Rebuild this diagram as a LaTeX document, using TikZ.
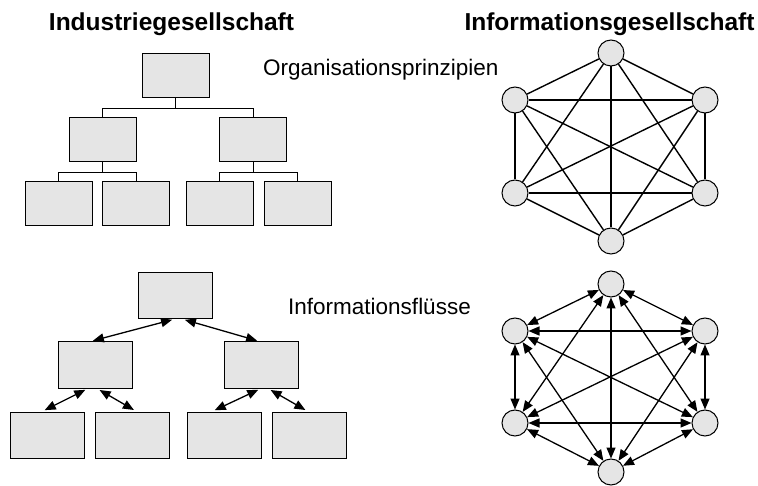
\documentclass[tikz,border=0pt]{standalone}
\usepackage{fontspec}
\setmainfont{Liberation Sans}
\usetikzlibrary{arrows.meta}

\begin{document}
\begin{tikzpicture}[x=1pt, y=-1pt,
	box/.style = {draw, line width=1pt, fill=black!10, inner sep=0pt},
	kbox/.style = {box, minimum width=67pt, minimum height=44pt},
	gbox/.style = {box, minimum width=74pt, minimum height=46pt},
	knot/.style = {draw, circle, line width=1pt, fill=black!10, minimum size=26pt, inner sep=0pt},
	hexline/.style = {line width=1.4pt},
	flow/.style = {line width=1.3pt, {Triangle[length=11pt,width=9pt]}-{Triangle[length=11pt,width=9pt]}},
	txt/.style = {inner sep=0pt, anchor=base west, font=\fontsize{22.5}{26}\selectfont},
	head/.style = {inner sep=0pt, anchor=base, font=\fontsize{24.5}{28}\selectfont\bfseries}]
	\useasboundingbox (0,0) rectangle (758,486);

	% titles
	\node[head] (hind) at (171.5,31) {Industriegesellschaft};
	\node[head] (hinf) at (609.5,31) {Informationsgesellschaft};
	\node[txt] (lorg) at (263,76) {Organisationsprinzipien};
	\node[txt] (lflu) at (288,315) {Informationsflüsse};

	% hierarchy, top
	\node[kbox] (o0) at (175.5,76) {};
	\node[kbox] (o1) at (102.5,140) {};
	\node[kbox] (o2) at (253,140) {};
	\node[kbox] (o11) at (58.5,204) {};
	\node[kbox] (o12) at (136,204) {};
	\node[kbox] (o21) at (219.5,204) {};
	\node[kbox] (o22) at (297.5,204) {};
	\draw[line width=1pt] (o0.south) -- ++(0,10) -| (o1.north);
	\draw[line width=1pt] (o0.south) -- ++(0,10) -| (o2.north);
	\draw[line width=1pt] (o1.south) -- ++(0,10) -| (o11.north);
	\draw[line width=1pt] (o1.south) -- ++(0,10) -| (o12.north);
	\draw[line width=1pt] (o2.south) -- ++(0,10) -| (o21.north);
	\draw[line width=1pt] (o2.south) -- ++(0,10) -| (o22.north);

	% hierarchy, bottom
	\node[gbox] (f0) at (175,295.5) {};
	\node[gbox] (f1) at (95,365) {};
	\node[gbox] (f2) at (261,365) {};
	\node[gbox] (f11) at (47,435) {};
	\node[gbox] (f12) at (132.5,435) {};
	\node[gbox] (f21) at (224,435) {};
	\node[gbox] (f22) at (309,435) {};
	\draw[flow, shorten <=3pt, shorten >=3pt] (f0.south) -- ([xshift=-5pt]f1.north);
	\draw[flow, shorten <=3pt, shorten >=3pt] ([xshift=7pt]f0.south) -- ([xshift=-1pt]f2.north);
	\draw[flow, shorten <=3pt, shorten >=3pt] ([xshift=-7pt]f1.south) -- ([xshift=-5pt]f11.north);
	\draw[flow, shorten <=3pt, shorten >=3pt] ([xshift=2pt]f1.south) -- ([xshift=4pt]f12.north);
	\draw[flow, shorten <=3pt, shorten >=3pt] (f2.south) -- ([xshift=-12pt]f21.north);
	\draw[flow, shorten <=3pt, shorten >=3pt] ([xshift=7pt]f2.south) -- ([xshift=-1pt]f22.north);

	% network, top
	\node[knot] (p1) at (611,53) {};
	\node[knot] (p2) at (705,100) {};
	\node[knot] (p3) at (705,193) {};
	\node[knot] (p4) at (611,241) {};
	\node[knot] (p5) at (515,193) {};
	\node[knot] (p6) at (515,100) {};
	\draw[hexline] (p1) edge (p2) edge (p3) edge (p4) edge (p5) edge (p6);
	\draw[hexline] (p2) edge (p3) edge (p4) edge (p5) edge (p6);
	\draw[hexline] (p3) edge (p4) edge (p5) edge (p6);
	\draw[hexline] (p4) edge (p5) edge (p6);
	\draw[hexline] (p5) edge (p6);

	% network, bottom
	\node[knot] (q1) at (611,284) {};
	\node[knot] (q2) at (705,331) {};
	\node[knot] (q3) at (705,423) {};
	\node[knot] (q4) at (611,472) {};
	\node[knot] (q5) at (515,423) {};
	\node[knot] (q6) at (515,331) {};
	\draw[flow] (q1) edge (q2) edge (q3) edge (q4) edge (q5) edge (q6);
	\draw[flow] (q2) edge (q3) edge (q4) edge (q5) edge (q6);
	\draw[flow] (q3) edge (q4) edge (q5) edge (q6);
	\draw[flow] (q4) edge (q5) edge (q6);
	\draw[flow] (q5) edge (q6);
\end{tikzpicture}
\end{document}
